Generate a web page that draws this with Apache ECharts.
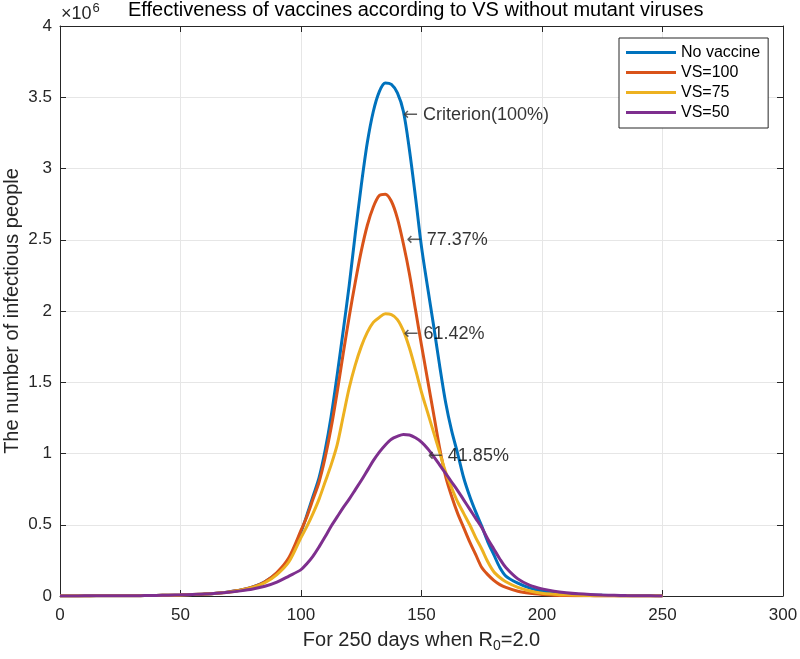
<!DOCTYPE html>
<html><head><meta charset="utf-8">
<script src="https://cdn.jsdelivr.net/npm/echarts@6/dist/echarts.min.js"></script>
<style>html,body{margin:0;padding:0;background:#fff}#c{width:800px;height:659px}</style>
</head><body><div id="c"></div>
<script>
// Data (values in units of 10^6 people)
const days = [0,5,10,15,20,25,30,35,40,45,50,55,60,65,70,75,80,85,90,95,
  100,102.5,105,107.5,110,112.5,115,117.5,120,122.5,125,127.5,130,132.5,135,137.5,140,142.5,145,147.5,150,152.5,155,157.5,160,162.5,165,167.5,170,172.5,175,177.5,180,182.5,185,
  190,195,200,205,210,215,220,225,230,235,240,245,250];
const noVaccine = [0,0,0,0.001,0.001,0.002,0.002,0.003,0.004,0.005,0.007,0.010,0.014,0.020,0.029,0.042,0.063,0.10,0.16,0.26,
  0.45,0.57,0.70,0.83,1.02,1.26,1.55,1.86,2.18,2.54,2.88,3.18,3.40,3.54,3.60,3.59,3.53,3.40,3.13,2.80,2.45,2.17,1.90,1.62,1.36,1.16,1.00,0.83,0.70,0.59,0.49,0.38,0.29,0.20,0.14,
  0.09,0.055,0.035,0.024,0.016,0.011,0.007,0.005,0.003,0.002,0.001,0.001,0];
const vs100 = [0,0,0,0.001,0.001,0.002,0.002,0.003,0.004,0.005,0.007,0.010,0.014,0.020,0.029,0.042,0.064,0.10,0.165,0.27,
  0.46,0.56,0.68,0.80,0.97,1.18,1.43,1.70,1.96,2.20,2.42,2.60,2.73,2.81,2.82,2.77,2.65,2.47,2.26,2.01,1.76,1.52,1.28,1.04,0.84,0.70,0.58,0.48,0.38,0.29,0.20,0.15,0.11,0.08,0.06,
  0.033,0.019,0.011,0.006,0.003,0.002,0.001,0,0,0,0,0,0];
const vs75 = [0,0,0,0.001,0.001,0.002,0.002,0.003,0.004,0.005,0.007,0.010,0.014,0.019,0.027,0.040,0.060,0.093,0.15,0.24,
  0.41,0.49,0.58,0.68,0.80,0.92,1.06,1.26,1.46,1.62,1.75,1.85,1.92,1.955,1.98,1.975,1.94,1.86,1.74,1.59,1.43,1.29,1.15,1.01,0.87,0.76,0.66,0.58,0.50,0.41,0.33,0.24,0.17,0.13,0.10,
  0.06,0.035,0.02,0.013,0.008,0.005,0.003,0.002,0.001,0,0,0,0];
const vs50 = [0,0,0.001,0.001,0.001,0.002,0.002,0.003,0.004,0.006,0.008,0.011,0.014,0.019,0.026,0.036,0.049,0.068,0.097,0.14,
  0.185,0.228,0.28,0.345,0.415,0.49,0.555,0.62,0.68,0.745,0.81,0.88,0.95,1.01,1.06,1.10,1.12,1.133,1.13,1.11,1.08,1.035,0.98,0.92,0.86,0.80,0.74,0.675,0.61,0.545,0.48,0.40,0.33,0.26,0.20,
  0.12,0.075,0.05,0.034,0.023,0.015,0.01,0.007,0.005,0.003,0.002,0.001,0];
const seriesNames = ['No vaccine','VS=100','VS=75','VS=50'];
const seriesValues = [noVaccine, vs100, vs75, vs50];
// Annotations (arrow tip position in data units)
const annotX = [142.3, 143.8, 142.5, 152.6];
const annotY = [3.373, 2.496, 1.837, 0.982];
const annotText = ['Criterion(100%)', '77.37%', '61.42%', '41.85%'];

const colors = ['#0072BD','#D95319','#EDB120','#7E2F8E'];
const FONT = '"Liberation Sans", Arial, Helvetica, sans-serif';
const AX = '#262626';

const chart = echarts.init(document.getElementById('c'), null, {renderer:'canvas'});
const lineSeries = seriesNames.map((n,i)=>({
  name:n, type:'line', xAxisIndex:0, yAxisIndex:0,
  data: days.map((d,k)=>[d, seriesValues[i][k]]),
  showSymbol:false, smooth:0.3,
  lineStyle:{width:3, color:colors[i]}, itemStyle:{color:colors[i]}, z:3
}));
const annotSeries = {
  name:'annot', type:'scatter', xAxisIndex:0, yAxisIndex:0, symbolSize:0, silent:true, z:10,
  data: annotX.map((x,i)=>({value:[x, annotY[i]], label:{formatter:'{a|\u2190} '+annotText[i]}})),
  label:{show:true, position:'right', distance:0, fontSize:18, color:'#000', fontFamily:FONT,
    rich:{a:{fontFamily:'"DejaVu Sans", sans-serif', fontSize:18, color:'#333'}}}
};
function xAx(pos, main){
  return {type:'value', min:0, max:300, interval:50, position:pos, gridIndex:0,
    axisLine:{show:true, onZero:false, lineStyle:{color:AX, width:1}},
    axisTick:{show:true, inside:true, length:6, lineStyle:{color:AX}},
    axisLabel:{show:main, fontSize:17, color:AX, margin:11, fontFamily:FONT},
    splitLine:{show:main, lineStyle:{color:'#e6e6e6', width:1}},
    name: main ? 'For 250 days when R{sub|0}=2.0' : '', nameLocation:'middle', nameGap:31, nameMoveOverlap:false,
    nameTextStyle:{fontSize:20, color:AX, fontFamily:FONT, rich:{sub:{fontSize:14, fontFamily:FONT, color:AX, padding:[12,0,0,0]}}}
  };
}
function yAx(pos, main){
  return {type:'value', min:0, max:4, interval:0.5, position:pos, gridIndex:0,
    axisLine:{show:true, onZero:false, lineStyle:{color:AX, width:1}},
    axisTick:{show:true, inside:true, length:6, lineStyle:{color:AX}},
    axisLabel:{show:main, fontSize:17, color:AX, margin:8, fontFamily:FONT},
    splitLine:{show:main, lineStyle:{color:'#e6e6e6', width:1}},
    name: main ? 'The number of infectious people' : '', nameLocation:'middle', nameGap:38, nameRotate:90, nameMoveOverlap:false,
    nameTextStyle:{fontSize:20, color:AX, fontFamily:FONT}
  };
}
chart.setOption({
  animation:false,
  backgroundColor:'#fff',
  title:{text:'Effectiveness of vaccines according to VS without mutant viruses', left:128, top:0, padding:0,
    textStyle:{fontSize:20, fontWeight:'normal', color:'#000', fontFamily:FONT}},
  grid:{left:60, right:17, top:26, bottom:63, containLabel:false, outerBoundsMode:'none'},
  xAxis:[xAx('bottom',true), xAx('top',false)],
  yAxis:[yAx('left',true), yAx('right',false)],
  legend:{data:seriesNames, orient:'vertical', left:619, top:38, icon:'rect', itemWidth:50, itemHeight:3, itemGap:3,
    padding:[6,8,7,7], borderColor:AX, borderWidth:1, backgroundColor:'#fff', borderRadius:0,
    textStyle:{fontSize:16, color:'#000', fontFamily:FONT, lineHeight:17}},
  graphic:[{type:'text', left:61, top:2, z:20,
    style:{text:'\u00d710{sup|6}', fontSize:18, fill:AX, fontFamily:FONT,
      rich:{sup:{fontSize:13, fill:AX, fontFamily:FONT, padding:[0,0,12,1]}}}}],
  series: lineSeries.concat([annotSeries])
});
</script></body></html>
